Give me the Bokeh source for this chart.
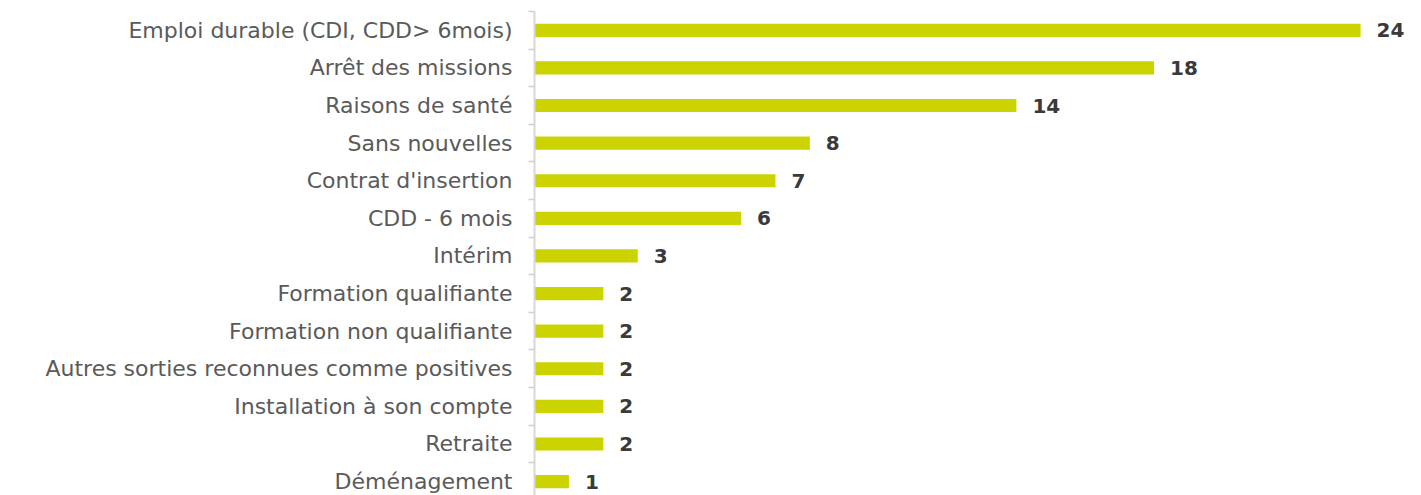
from bokeh.plotting import figure
from bokeh.models import ColumnDataSource, FixedTicker, Range1d
from bokeh.core.properties import value
from bokeh.embed import file_html
from bokeh.resources import INLINE

categories = [
    "Emploi durable (CDI, CDD> 6mois)",
    "Arrêt des missions",
    "Raisons de santé",
    "Sans nouvelles",
    "Contrat d'insertion",
    "CDD - 6 mois",
    "Intérim",
    "Formation qualifiante",
    "Formation non qualifiante",
    "Autres sorties reconnues comme positives",
    "Installation à son compte",
    "Retraite",
    "Déménagement",
]
counts = [24, 18, 14, 8, 7, 6, 3, 2, 2, 2, 2, 2, 1]

pos = list(range(len(categories)))
src = ColumnDataSource(dict(pos=pos, cat=categories, val=counts,
                            lab=[str(v) for v in counts]))

p = figure(width=1421, height=495, output_backend="svg", toolbar_location=None,
           x_range=Range1d(0, 25.77), y_range=Range1d(12.37, -0.5),
           x_axis_location=None, min_border_left=534, min_border_right=0,
           min_border_top=11, min_border_bottom=0, tools="")
p.outline_line_color = None
p.xgrid.visible = False
p.ygrid.visible = False

p.hbar(y="pos", right="val", left=0, height=0.35, source=src,
       fill_color="#cbd300", line_color=None)

p.text(x="val", y="pos", text="lab", source=src, x_offset=16,
       text_baseline="middle", text_align="left",
       text_font=value("DejaVu Sans"), text_font_size="20px",
       text_font_style="bold", text_color="#3a3a3a")

ax = p.yaxis[0]
ax.ticker = FixedTicker(ticks=pos, minor_ticks=[i - 0.5 for i in range(len(categories) + 1)])
ax.major_label_overrides = {i: c for i, c in zip(pos, categories)}
ax.major_tick_line_color = None
ax.major_tick_out = 0
ax.major_tick_in = 0
ax.minor_tick_out = 6
ax.minor_tick_in = 0
ax.minor_tick_line_color = "#d0d0d0"
ax.minor_tick_line_width = 1.5
ax.axis_line_color = "#d8d8d8"
ax.axis_line_width = 2
ax.major_label_standoff = 16
ax.major_label_text_font = "DejaVu Sans"
ax.major_label_text_font_size = "22px"
ax.major_label_text_color = "#5a5a5a"

open("out.html", "w").write(file_html(p, INLINE))
